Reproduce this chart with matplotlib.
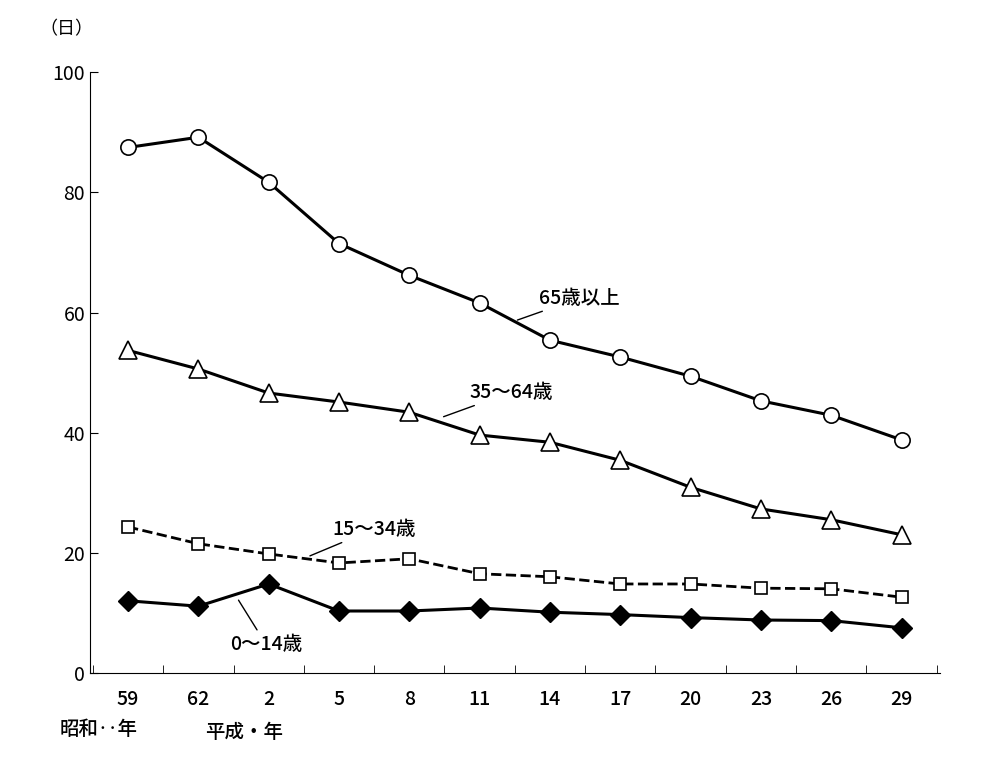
import matplotlib.pyplot as plt
import numpy as np

plt.rcParams['font.family'] = ['Noto Sans CJK JP', 'DejaVu Sans']

# data
years = ['59', '62', '2', '5', '8', '11', '14', '17', '20', '23', '26', '29']
age65 = [87.5, 89.2, 81.7, 71.5, 66.2, 61.6, 55.4, 52.6, 49.4, 45.3, 42.9, 38.8]
age35 = [53.7, 50.6, 46.6, 45.1, 43.4, 39.6, 38.4, 35.4, 30.9, 27.3, 25.5, 23.0]
age15 = [24.3, 21.5, 19.8, 18.3, 19.0, 16.5, 16.0, 14.8, 14.8, 14.1, 14.0, 12.6]
age0 = [12.0, 11.1, 14.8, 10.3, 10.3, 10.8, 10.1, 9.7, 9.2, 8.8, 8.7, 7.5]

x = np.arange(len(years))

fig = plt.figure(figsize=(9.9, 7.62), dpi=100)
ax = fig.add_axes([0.091, 0.117, 0.858, 0.788])

ax.plot(x, age65, '-', color='black', lw=2.2, marker='o', ms=11, mfc='white', mec='black', mew=1.2)
ax.plot(x, age35, '-', color='black', lw=2.2, marker='^', ms=13, mfc='white', mec='black', mew=1.2)
ax.plot(x, age15, '--', color='black', lw=2.0, marker='s', ms=8, mfc='white', mec='black', mew=1.2)
ax.plot(x, age0, '-', color='black', lw=2.2, marker='D', ms=10, mfc='black', mec='black')

ax.set_xlim(-0.54, len(years) - 0.46)
ax.set_ylim(0, 100)
ax.set_yticks(range(0, 101, 20))
ax.set_xticks(x)
ax.set_xticklabels(years, fontsize=14, fontweight='medium')
ax.tick_params(axis='x', which='major', length=0, pad=12)
ax.set_xticks(np.arange(-0.5, len(years), 1), minor=True)
ax.tick_params(axis='x', which='minor', length=6, direction='in')
ax.tick_params(axis='y', labelsize=14, direction='in', length=6)
for s in ['top', 'right']:
    ax.spines[s].set_visible(False)

# annotations with leader lines
lbl = dict(fontsize=14, fontweight='medium')
ax.annotate('65歳以上', xy=(5.5, 58.6), xytext=(5.85, 61.5), **lbl,
            arrowprops=dict(arrowstyle='-', color='black', lw=1))
ax.annotate('35～64歳', xy=(4.45, 42.5), xytext=(4.85, 45.8), **lbl,
            arrowprops=dict(arrowstyle='-', color='black', lw=1))
ax.annotate('15～34歳', xy=(2.55, 19.3), xytext=(2.9, 23.0), **lbl,
            arrowprops=dict(arrowstyle='-', color='black', lw=1))
ax.annotate('0～14歳', xy=(1.55, 12.5), xytext=(1.45, 3.8), **lbl,
            arrowprops=dict(arrowstyle='-', color='black', lw=1))

fig.text(0.04, 0.955, '（日）', fontsize=13)
fig.text(0.06, 0.035, '昭和‥年', fontsize=14, fontweight='medium')
fig.text(0.207, 0.032, '平成・年', fontsize=14, fontweight='medium')

fig.savefig('out.png')
